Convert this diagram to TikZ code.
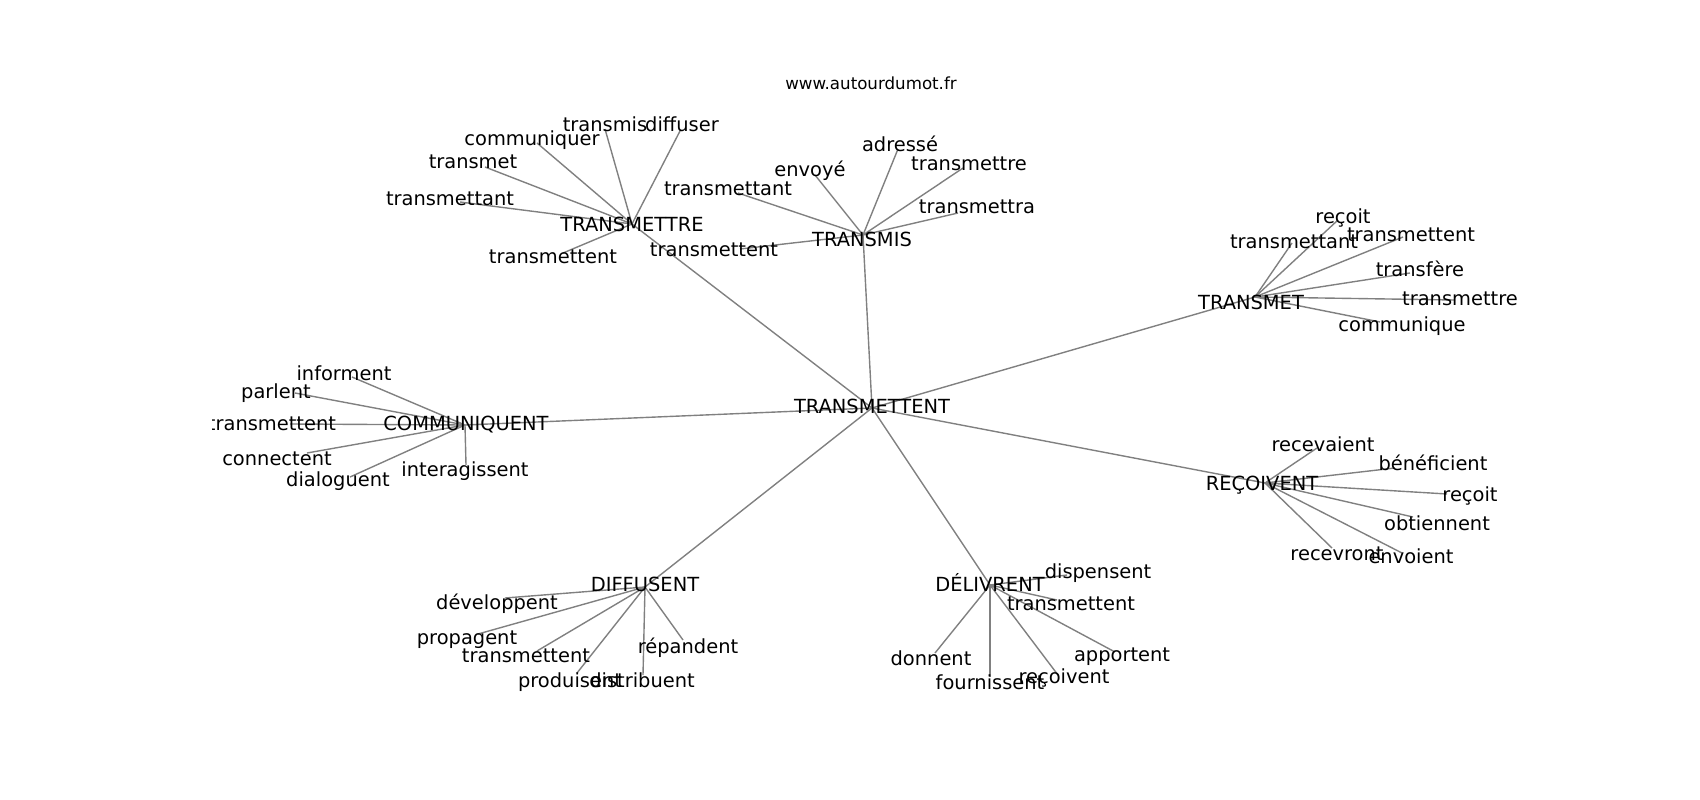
\documentclass[tikz,border=0pt]{standalone}
\usepackage{fontspec}
\setmainfont{DejaVu Sans}
\tikzset{
  edge/.style={draw=gray, line width=1.39pt},
  lbl/.style={inner sep=0pt, text height=14.2pt, text depth=0pt, font=\fontsize{19.44}{23}\selectfont, text=black},
  ttl/.style={inner sep=0pt, font=\fontsize{16.67}{20}\selectfont, text=black}
}
\begin{document}
\begin{tikzpicture}[x=1pt,y=-1pt]
\useasboundingbox (0,0) rectangle (1700,800);
\fill[white] (0,0) rectangle (1700,800);
\node[ttl] (title) at (871,83) {www.autourdumot.fr};
\begin{scope}
\clip (212.5,96) rectangle (1530,712);
% graph vertices
\coordinate (c) at (872,408);
\coordinate (h1) at (632,224);
\coordinate (h2) at (863,235);
\coordinate (h3) at (1255,297);
\coordinate (h4) at (465,425);
\coordinate (h5) at (1265,483);
\coordinate (h6) at (645,587);
\coordinate (h7) at (990,585);
% TRANSMETTRE leaves
\coordinate (a1) at (537,143);
\coordinate (a2) at (605,129);
\coordinate (a3) at (680,131);
\coordinate (a4) at (485,167);
\coordinate (a5) at (460,202);
\coordinate (a6) at (563,253);
% TRANSMIS leaves
\coordinate (b1) at (738,193);
\coordinate (b2) at (815,175);
\coordinate (b3) at (898,149);
\coordinate (b4) at (963,168);
\coordinate (b5) at (958,213);
\coordinate (b6) at (740,249);
% TRANSMET leaves
\coordinate (c1) at (1338,220);
\coordinate (c2) at (1292,243);
\coordinate (c3) at (1403,237);
\coordinate (c4) at (1410,273);
\coordinate (c5) at (1455,300);
\coordinate (c6) at (1380,322);
% COMMUNIQUENT leaves
\coordinate (d1) at (352,377);
\coordinate (d2) at (295,393);
\coordinate (d3) at (290,424);
\coordinate (d4) at (307,453);
\coordinate (d5) at (350,477);
\coordinate (d6) at (466,465);
% RECOIVENT leaves
\coordinate (e1) at (1317,448);
\coordinate (e2) at (1395,468);
\coordinate (e3) at (1447,494);
\coordinate (e4) at (1413,517);
\coordinate (e5) at (1332,548);
\coordinate (e6) at (1402,553);
% DIFFUSENT leaves
\coordinate (f1) at (505,598);
\coordinate (f2) at (478,634);
\coordinate (f3) at (537,651);
\coordinate (f4) at (577,673);
\coordinate (f5) at (643,675);
\coordinate (f6) at (683,640);
% DELIVRENT leaves
\coordinate (g1) at (1067,575);
\coordinate (g2) at (1057,600);
\coordinate (g3) at (935,653);
\coordinate (g4) at (990,677);
\coordinate (g5) at (1058,675);
\coordinate (g6) at (1115,652);
% edges
\foreach \h in {h1,h2,h3,h4,h5,h6,h7} \draw[edge] (c) -- (\h);
\foreach \l in {a1,a2,a3,a4,a5,a6} \draw[edge] (h1) -- (\l);
\foreach \l in {b1,b2,b3,b4,b5,b6} \draw[edge] (h2) -- (\l);
\foreach \l in {c1,c2,c3,c4,c5,c6} \draw[edge] (h3) -- (\l);
\foreach \l in {d1,d2,d3,d4,d5,d6} \draw[edge] (h4) -- (\l);
\foreach \l in {e1,e2,e3,e4,e5,e6} \draw[edge] (h5) -- (\l);
\foreach \l in {f1,f2,f3,f4,f5,f6} \draw[edge] (h6) -- (\l);
\foreach \l in {g1,g2,g3,g4,g5,g6} \draw[edge] (h7) -- (\l);
% labels
\node[lbl] (tc) at (872,406) {TRANSMETTENT};
\node[lbl] (th1) at (632,224) {TRANSMETTRE};
\node[lbl] (th2) at (862,239) {TRANSMIS};
\node[lbl] (th3) at (1251,302) {TRANSMET};
\node[lbl] (th4) at (466,423) {COMMUNIQUENT};
\node[lbl] (th5) at (1262,483) {REÇOIVENT};
\node[lbl] (th6) at (645,584) {DIFFUSENT};
\node[lbl] (th7) at (990,584) {DÉLIVRENT};
\node[lbl] (ta1) at (532,138) {communiquer};
\node[lbl] (ta2) at (605,124) {transmis};
\node[lbl] (ta3) at (682,124) {diffuser};
\node[lbl] (ta4) at (473,161) {transmet};
\node[lbl] (ta5) at (450,198) {transmettant};
\node[lbl] (ta6) at (553,256) {transmettent};
\node[lbl] (tb1) at (728,188) {transmettant};
\node[lbl] (tb2) at (810,169) {envoyé};
\node[lbl] (tb3) at (900,144) {adressé};
\node[lbl] (tb4) at (969,163) {transmettre};
\node[lbl] (tb5) at (977,206) {transmettra};
\node[lbl] (tb6) at (714,249) {transmettent};
\node[lbl] (tc1) at (1343,216) {reçoit};
\node[lbl] (tc2) at (1294,241) {transmettant};
\node[lbl] (tc3) at (1411,234) {transmettent};
\node[lbl] (tc4) at (1420,269) {transfère};
\node[lbl] (tc5) at (1460,298) {transmettre};
\node[lbl] (tc6) at (1402,324) {communique};
\node[lbl] (td1) at (344,373) {informent};
\node[lbl] (td2) at (276,391) {parlent};
\node[lbl] (td3) at (272,423) {transmettent};
\node[lbl] (td4) at (277,458) {connectent};
\node[lbl] (td5) at (338,479) {dialoguent};
\node[lbl] (td6) at (465,469) {interagissent};
\node[lbl] (te1) at (1323,444) {recevaient};
\node[lbl] (te2) at (1433,463) {bénéficient};
\node[lbl] (te3) at (1470,494) {reçoit};
\node[lbl] (te4) at (1437,523) {obtiennent};
\node[lbl] (te5) at (1337,553) {recevront};
\node[lbl] (te6) at (1411,556) {envoient};
\node[lbl] (tf1) at (497,602) {développent};
\node[lbl] (tf2) at (467,637) {propagent};
\node[lbl] (tf3) at (526,655) {transmettent};
\node[lbl] (tf4) at (570,680) {produisent};
\node[lbl] (tf5) at (642,680) {distribuent};
\node[lbl] (tf6) at (688,646) {répandent};
\node[lbl] (tg1) at (1098,571) {dispensent};
\node[lbl] (tg2) at (1071,603) {transmettent};
\node[lbl] (tg3) at (931,658) {donnent};
\node[lbl] (tg4) at (990,682) {fournissent};
\node[lbl] (tg5) at (1064,676) {reçoivent};
\node[lbl] (tg6) at (1122,654) {apportent};
\end{scope}
\end{tikzpicture}
\end{document}
